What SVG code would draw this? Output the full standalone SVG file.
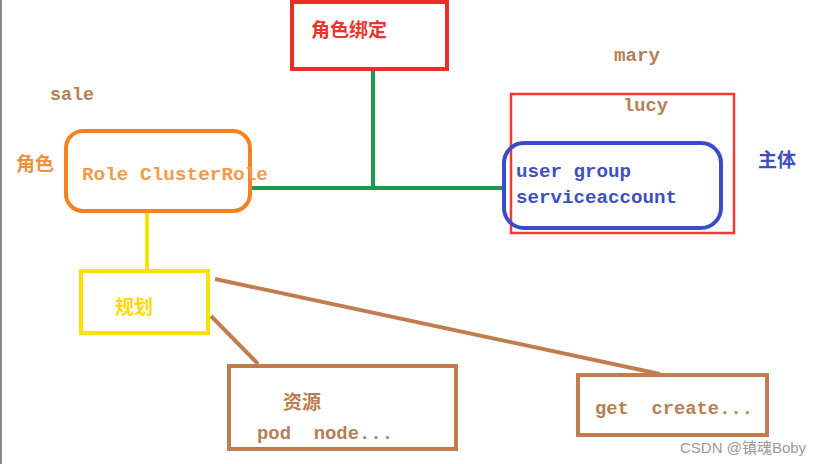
<svg xmlns="http://www.w3.org/2000/svg" width="822" height="464" viewBox="0 0 822 464" xml:space="preserve">
<style>
.mono{font-family:"Liberation Mono","DejaVu Sans Mono",monospace;font-size:19px;font-weight:bold;white-space:pre}
.cjk{font-family:"Noto Sans CJK SC","Noto Sans",sans-serif;font-size:19px;font-weight:bold}
.brown{fill:#b58058}
.box{fill:none;stroke-width:4}
</style>
<rect x="0" y="0" width="822" height="464" fill="#ffffff"/>
<line x1="1" y1="0" x2="1" y2="464" stroke="#8a8a8a" stroke-width="2"/>
<g id="connectors" fill="none" stroke-width="4">
  <line x1="373" y1="69" x2="373" y2="190" stroke="#1f9a4c"/>
  <line x1="251" y1="188" x2="503" y2="188" stroke="#1f9a4c"/>
  <line x1="147" y1="211" x2="147" y2="270" stroke="#ffe100"/>
  <line x1="215" y1="279" x2="660" y2="374" stroke="#c17d4f"/>
  <line x1="211" y1="316" x2="258" y2="364" stroke="#c17d4f"/>
</g>
<g id="binding">
  <rect x="292" y="2" width="155" height="67" class="box" stroke="#ec2d25"/>
  <text x="311" y="37" class="cjk" fill="#e8362c" font-size="20">角色绑定</text>
</g>
<g id="role">
  <rect x="66" y="131" width="184" height="80" rx="17" class="box" stroke="#f6821f"/>
  <text x="82" y="180" class="mono" fill="#f39a4c" textLength="186" lengthAdjust="spacingAndGlyphs">Role ClusterRole</text>
  <text x="16" y="171" class="cjk" fill="#f39040">角色</text>
  <text x="50" y="100" class="mono brown" textLength="44" lengthAdjust="spacingAndGlyphs">sale</text>
</g>
<g id="subject">
  <rect x="511" y="94" width="223" height="139" fill="none" stroke="#f13a3a" stroke-width="2.5"/>
  <rect x="504" y="143" width="217" height="85" rx="20" class="box" stroke="#3b4cc8"/>
  <text x="516" y="177" class="mono" fill="#3f4fbf" textLength="115" lengthAdjust="spacingAndGlyphs">user group</text>
  <text x="516" y="203" class="mono" fill="#3f4fbf" textLength="161" lengthAdjust="spacingAndGlyphs">serviceaccount</text>
  <text x="623" y="111" class="mono brown" textLength="45" lengthAdjust="spacingAndGlyphs">lucy</text>
  <text x="614" y="61" class="mono brown" textLength="46" lengthAdjust="spacingAndGlyphs">mary</text>
  <text x="758" y="167" class="cjk" fill="#3f4fbf">主体</text>
</g>
<g id="plan">
  <rect x="81" y="271" width="127" height="62" class="box" stroke="#ffe100"/>
  <text x="115" y="314" class="cjk" fill="#ffd900">规划</text>
</g>
<g id="resource">
  <rect x="229" y="366" width="227" height="83" class="box" stroke="#c17d4f"/>
  <text x="283" y="409" class="cjk" fill="#b97d52">资源</text>
  <text x="257" y="439" class="mono brown" textLength="136" lengthAdjust="spacingAndGlyphs">pod  node...</text>
</g>
<g id="verbs">
  <rect x="578" y="375" width="189" height="60" class="box" stroke="#c17d4f"/>
  <text x="595" y="414" class="mono brown" textLength="158" lengthAdjust="spacingAndGlyphs">get  create...</text>
</g>
<text x="680" y="453" font-family="Liberation Sans,'Noto Sans CJK SC',sans-serif" font-size="15" fill="#9a9a9a">CSDN @镇魂Boby</text>
</svg>
